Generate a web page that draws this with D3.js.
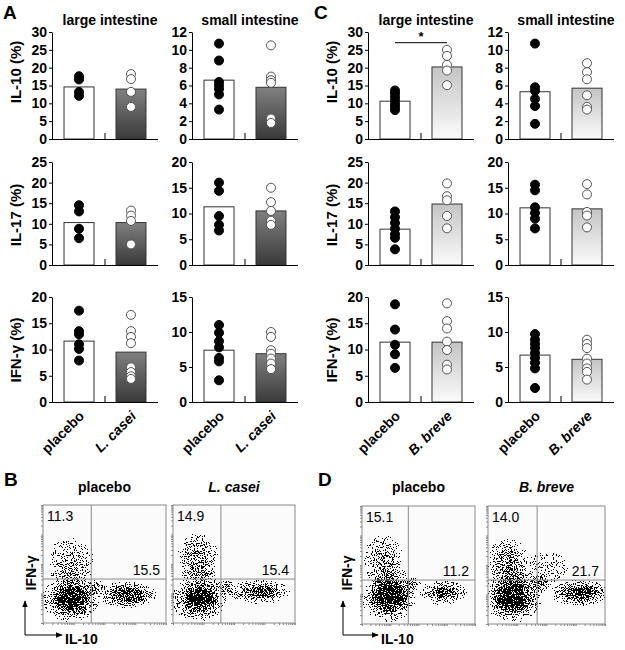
<!DOCTYPE html>
<html><head><meta charset="utf-8">
<script src="https://cdn.jsdelivr.net/npm/d3@7"></script>
<style>body{margin:0;background:#fff}svg{display:block}</style>
</head><body>
<svg id="fig" width="625" height="650"></svg>
<script>
// ---------------- DATA ----------------
const groupsA = ["placebo", "L. casei"];
const groupsC = ["placebo", "B. breve"];
const cytokineLabels = ["IL-10 (%)", "IL-17 (%)", "IFN-γ (%)"];
const tissueLabels = ["large intestine", "small intestine"];
const yMaxLarge = [30, 25, 20];
const yStepLarge = [5, 5, 5];
const yMaxSmall = [12, 20, 15];
const yStepSmall = [2, 5, 5];

// Panel A (L. casei) — bar heights [placebo, L. casei] per cytokine row
const A_large_means = [[14.6, 14.0], [10.3, 10.3], [11.6, 9.5]];
const A_large_placebo = [[17.6, 16.7, 13.2, 12.1], [14.5, 13.0, 8.8, 6.5], [17.4, 13.5, 12.9, 11.0, 10.1, 7.9]];
const A_large_casei = [[18.2, 16.8, 13.2, 9.0], [13.2, 12.0, 10.7, 5.0], [16.6, 13.5, 12.4, 11.2, 6.6, 5.7, 4.9, 4.4]];
const A_small_means = [[6.6, 5.8], [11.3, 10.5], [7.4, 6.9]];
const A_small_placebo = [[10.7, 8.8, 6.4, 6.0, 5.6, 5.0, 3.3], [16.0, 14.4, 9.5, 7.8, 6.7], [11.0, 9.9, 8.7, 7.8, 6.3, 5.8, 3.1]];
const A_small_casei = [[10.5, 7.0, 6.6, 6.3, 2.3, 1.8], [15.0, 12.2, 10.5, 8.6, 7.8], [10.0, 9.3, 7.4, 6.9, 6.2, 5.5, 4.7]];

// Panel C (B. breve)
const C_large_means = [[10.6, 20.2], [8.7, 14.8], [11.4, 11.4]];
const C_large_placebo = [[13.6, 12.8, 11.8, 10.8, 9.8, 8.9, 8.1], [13.0, 11.6, 10.2, 8.8, 7.5, 6.6, 3.8], [18.6, 13.8, 10.9, 9.1, 6.5]];
const C_large_breve = [[25.0, 23.3, 20.8, 19.2, 15.1], [19.8, 16.7, 15.7, 11.9, 8.9], [18.8, 15.4, 14.0, 11.5, 9.9, 7.1, 6.2]];
const C_small_means = [[5.3, 5.7], [11.1, 10.9], [6.7, 6.1]];
const C_small_placebo = [[10.7, 5.8, 5.4, 4.5, 3.7, 1.7], [15.6, 14.5, 11.2, 10.1, 9.0, 7.1], [9.7, 8.9, 8.3, 7.7, 7.0, 6.3, 5.6, 4.8, 2.0]];
const C_small_breve = [[8.5, 7.5, 6.7, 4.9, 3.6, 3.3], [15.7, 13.7, 10.3, 9.6, 7.3], [8.9, 8.3, 7.7, 6.2, 5.5, 4.8, 4.3, 3.2]];
const sigLevelC = 27;   // significance bracket level (% IL-10, large intestine)
const sigText = "*";

// Flow cytometry (B, D): quadrant percentages [upper-left, lower-right]
const flowTitlesB = ["placebo", "L. casei"];
const flowTitlesD = ["placebo", "B. breve"];
const flowPctB = [["11.3", "15.5"], ["14.9", "15.4"]];
const flowPctD = [["15.1", "11.2"], ["14.0", "21.7"]];
// gate positions (log10 units on a 0–4 decade axis): [IL-10 gate, IFN-γ gate]
const flowGatesB = [[1.57, 1.49], [1.57, 1.49]];
const flowGatesD = [[1.64, 1.49], [1.68, 1.49]];
// cell populations, estimated densities: [IL-10 centre, IFN-γ centre, spreadX, spreadY, density] (decades)
const popsB_placebo = [[0.94,0.85,0.72,0.58,1.0],[0.92,0.82,0.45,0.38,1.0],[0.88,0.80,0.98,0.82,0.6],[0.88,2.2,0.80,0.75,0.3],[0.90,1.63,0.72,0.47,0.38],[1.69,1.19,0.36,0.28,0.55],[2.76,0.95,0.98,0.47,0.72],[2.83,0.95,0.60,0.28,0.55],[2.2,2.1,2.0,1.9,0.04]];
const popsB_casei   = [[0.88,0.85,0.70,0.56,0.95],[0.86,0.82,0.42,0.36,1.0],[0.85,0.80,0.95,0.80,0.55],[0.80,2.3,0.68,0.78,0.5],[0.85,1.65,0.70,0.47,0.42],[1.69,1.19,0.36,0.28,0.5],[2.85,1.05,1.05,0.42,0.62],[2.95,1.05,0.60,0.26,0.45],[2.2,2.1,2.0,1.9,0.04]];
const popsD_placebo = [[0.99,0.98,0.78,0.68,1.0],[0.97,0.95,0.48,0.42,1.0],[0.95,0.90,1.00,0.88,0.65],[0.74,2.27,0.72,0.78,0.45],[0.85,1.65,0.74,0.50,0.45],[1.75,1.30,0.38,0.30,0.55],[2.87,1.05,0.90,0.42,0.62],[2.92,1.05,0.55,0.24,0.45],[2.2,2.1,2.0,1.9,0.04]];
const popsD_breve   = [[0.85,0.92,0.78,0.68,1.0],[0.85,0.90,0.48,0.42,1.0],[0.85,0.95,1.05,0.95,0.65],[0.65,2.17,0.72,0.78,0.5],[0.80,1.65,0.72,0.50,0.45],[1.75,1.40,0.42,0.36,0.6],[3.15,1.05,1.05,0.46,0.78],[3.2,1.05,0.62,0.28,0.6],[2.0,1.9,0.75,0.55,0.15],[2.2,2.1,2.0,1.9,0.05]];

// ---------------- LAYOUT ----------------
const FONT = "'Liberation Sans', Arial, Helvetica, sans-serif";
const svg = d3.select("#fig");
const defs = svg.append("defs");

function linGrad(id, top, bottom) {
  const g = defs.append("linearGradient").attr("id", id).attr("x1", 0).attr("y1", 0).attr("x2", 0).attr("y2", 1);
  g.append("stop").attr("offset", "0%").attr("stop-color", top);
  g.append("stop").attr("offset", "100%").attr("stop-color", bottom);
}
linGrad("darkBar", "#808080", "#3a3a3a");
linGrad("lightBar", "#c4c4c4", "#fbfbfb");

const rg = defs.append("radialGradient").attr("id", "blob");
rg.append("stop").attr("offset", "0%").attr("stop-color", "#000").attr("stop-opacity", 1);
rg.append("stop").attr("offset", "45%").attr("stop-color", "#000").attr("stop-opacity", 0.75);
rg.append("stop").attr("offset", "100%").attr("stop-color", "#000").attr("stop-opacity", 0);

const flt = defs.append("filter").attr("id", "speckle").attr("filterUnits", "userSpaceOnUse")
  .attr("x", 0).attr("y", 480).attr("width", 625).attr("height", 170)
  .attr("color-interpolation-filters", "sRGB");
flt.append("feTurbulence").attr("type", "fractalNoise").attr("baseFrequency", 0.9).attr("numOctaves", 2).attr("seed", 5).attr("result", "noise");
flt.append("feColorMatrix").attr("in", "noise").attr("type", "matrix")
  .attr("values", "0 0 0 0 0  0 0 0 0 0  0 0 0 0 0  3.2 0 0 0 -1.1").attr("result", "thr");
flt.append("feComposite").attr("in", "SourceAlpha").attr("in2", "thr").attr("operator", "arithmetic")
  .attr("k1", 0).attr("k2", 1).attr("k3", -1).attr("k4", 0).attr("result", "diff");
const ct = flt.append("feComponentTransfer").attr("in", "diff");
ct.append("feFuncA").attr("type", "discrete").attr("tableValues", "0 1 1 1 1 1 1 1 1 1 1 1 1 1 1 1 1 1 1 1");

const rowsLayout = [{ top: 32, base: 139, lab: 72 }, { top: 162, base: 265, lab: 215 }, { top: 297, base: 402, lab: 350 }];

function text(g, x, y, str, opts = {}) {
  return g.append("text").attr("x", x).attr("y", y).text(str)
    .attr("font-family", FONT).attr("font-size", opts.size || 14)
    .attr("font-weight", opts.weight || "bold")
    .attr("font-style", opts.italic ? "italic" : "normal")
    .attr("text-anchor", opts.anchor || "start")
    .attr("fill", "#000");
}

function barChart(ax, row, yMax, yStep, cats, means, dotsP, dotsT, fillId, ylabel) {
  const L = rowsLayout[row];
  const g = svg.append("g");
  const y = d3.scaleLinear().domain([0, yMax]).range([L.base, L.top]);
  const x = d3.scaleBand().domain(cats).range([ax, ax + 106]).paddingInner(0.423).paddingOuter(0.231);
  g.selectAll("rect.bar").data(cats).join("rect")
    .attr("x", d => x(d)).attr("width", x.bandwidth())
    .attr("y", (d, i) => y(means[i])).attr("height", (d, i) => y(0) - y(means[i]))
    .attr("fill", (d, i) => i === 0 ? "#fff" : `url(#${fillId})`)
    .attr("stroke", "#333").attr("stroke-width", 1);
  [dotsP, dotsT].forEach((arr, i) => {
    g.selectAll(null).data(arr).join("circle")
      .attr("cx", x(cats[i]) + x.bandwidth() / 2).attr("cy", d => y(d)).attr("r", 4.5)
      .attr("fill", i === 0 ? "#000" : "#fff")
      .attr("stroke", i === 0 ? "#000" : "#555").attr("stroke-width", 1);
  });
  const yAxis = d3.axisLeft(y).tickValues(d3.range(0, yMax + 0.001, yStep)).tickSize(3).tickSizeOuter(0).tickPadding(2);
  const ga = g.append("g").attr("transform", `translate(${ax},0)`).call(yAxis);
  ga.selectAll("text").attr("font-family", FONT).attr("font-size", 14).attr("font-weight", "bold").attr("fill", "#000");
  ga.selectAll("path,line").attr("stroke", "#000");
  g.append("line").attr("x1", ax).attr("x2", ax + 106).attr("y1", L.base + 0.5).attr("y2", L.base + 0.5).attr("stroke", "#000");
  g.append("line").attr("x1", ax + 53).attr("x2", ax + 53).attr("y1", L.base).attr("y2", L.base - 6).attr("stroke", "#000");
  if (ylabel) {
    const lg = g.append("g").attr("transform", `translate(${ax - 31},${L.lab}) rotate(-90)`);
    text(lg, 0, 0, ylabel, { size: 15, anchor: "middle" });
  }
  if (row === 2) {
    cats.forEach((c, i) => {
      const px = x(c) + x.bandwidth() / 2 + 6, py = L.base + 15;
      const tg = g.append("g").attr("transform", `translate(${px},${py}) rotate(-45)`);
      text(tg, 0, 0, c, { size: 14, anchor: "end", italic: i === 1 });
    });
  }
  return { x, y, g };
}

const cols = [
  { ax: 52, cats: groupsA, means: A_large_means, p: A_large_placebo, t: A_large_casei, max: yMaxLarge, step: yStepLarge, fill: "darkBar", ylab: true, tissue: 0 },
  { ax: 192, cats: groupsA, means: A_small_means, p: A_small_placebo, t: A_small_casei, max: yMaxSmall, step: yStepSmall, fill: "darkBar", ylab: false, tissue: 1 },
  { ax: 368, cats: groupsC, means: C_large_means, p: C_large_placebo, t: C_large_breve, max: yMaxLarge, step: yStepLarge, fill: "lightBar", ylab: true, tissue: 0 },
  { ax: 508, cats: groupsC, means: C_small_means, p: C_small_placebo, t: C_small_breve, max: yMaxSmall, step: yStepSmall, fill: "lightBar", ylab: false, tissue: 1 }
];

cols.forEach((c, ci) => {
  text(svg, c.ax + 58, 25, tissueLabels[c.tissue], { size: 14, anchor: "middle" });
  for (let r = 0; r < 3; r++) {
    const ch = barChart(c.ax, r, c.max[r], c.step[r], c.cats, c.means[r], c.p[r], c.t[r], c.fill, c.ylab ? cytokineLabels[r] : null);
    if (ci === 2 && r === 0) {
      const x0 = ch.x(c.cats[0]) + ch.x.bandwidth() / 2, x1 = ch.x(c.cats[1]) + ch.x.bandwidth() / 2;
      const yy = ch.y(sigLevelC);
      ch.g.append("line").attr("x1", x0).attr("x2", x1).attr("y1", yy).attr("y2", yy).attr("stroke", "#000");
      text(ch.g, (x0 + x1) / 2, yy - 2, sigText, { size: 13, anchor: "middle", weight: "bold" });
    }
  }
});

text(svg, 3, 19, "A", { size: 19 });
text(svg, 314, 19, "C", { size: 19 });
text(svg, 4, 486, "B", { size: 19 });
text(svg, 318, 486, "D", { size: 19 });

// ---------------- FLOW PLOTS ----------------
function flowPlot(x0, x1, y0, y1, title, italic, pct, gates, pops) {
  const g = svg.append("g");
  const xs = d3.scaleLog().domain([1, 1e4]).range([x0, x1]);
  const ys = d3.scaleLog().domain([1, 1e4]).range([y1, y0]);
  const id = "clip" + Math.round(x0);
  defs.append("clipPath").attr("id", id).append("rect").attr("x", x0).attr("y", y0).attr("width", x1 - x0).attr("height", y1 - y0);
  g.append("rect").attr("x", x0).attr("y", y0).attr("width", x1 - x0).attr("height", y1 - y0).attr("fill", "#fbfbfb");
  const pg = g.append("g").attr("clip-path", `url(#${id})`).append("g").attr("filter", "url(#speckle)");
  pg.selectAll("ellipse").data(pops).join("ellipse")
    .attr("cx", d => xs(Math.pow(10, d[0]))).attr("cy", d => ys(Math.pow(10, d[1])))
    .attr("rx", d => xs(Math.pow(10, d[2])) - xs(1)).attr("ry", d => ys(1) - ys(Math.pow(10, d[3])))
    .attr("fill", "url(#blob)").attr("fill-opacity", d => d[4]);
  const gx = xs(Math.pow(10, gates[0])), gy = ys(Math.pow(10, gates[1]));
  g.append("line").attr("x1", gx).attr("x2", gx).attr("y1", y0).attr("y2", y1).attr("stroke", "#8a8a8a");
  g.append("line").attr("x1", x0).attr("x2", x1).attr("y1", gy).attr("y2", gy).attr("stroke", "#8a8a8a");
  g.append("rect").attr("x", x0).attr("y", y0).attr("width", x1 - x0).attr("height", y1 - y0)
    .attr("fill", "none").attr("stroke", "#8a8a8a");
  const minors = [];
  for (let e = 0; e < 4; e++) for (let m = 1; m < 10; m++) minors.push(m * Math.pow(10, e));
  minors.push(1e4);
  const a1 = g.append("g").attr("transform", `translate(${x0},0)`).call(d3.axisLeft(ys).tickValues(minors).tickSize(2).tickFormat(""));
  const a2 = g.append("g").attr("transform", `translate(0,${y1})`).call(d3.axisBottom(xs).tickValues(minors).tickSize(2).tickFormat(""));
  [a1, a2].forEach(a => { a.select("path").remove(); a.selectAll("line").attr("stroke", "#888"); });
  text(g, x0 + 4, y0 + 16, pct[0], { size: 14, weight: "normal" });
  text(g, x1 - 6, gy - 4, pct[1], { size: 14, weight: "normal", anchor: "end" });
  text(g, (x0 + x1) / 2, 492, title, { size: 14, anchor: "middle", italic });
}

flowPlot(43, 166, 505, 623, flowTitlesB[0], false, flowPctB[0], flowGatesB[0], popsB_placebo);
flowPlot(173, 295, 505, 623, flowTitlesB[1], true, flowPctB[1], flowGatesB[1], popsB_casei);
flowPlot(362, 475, 506, 624, flowTitlesD[0], false, flowPctD[0], flowGatesD[0], popsD_placebo);
flowPlot(488, 605, 506, 624, flowTitlesD[1], true, flowPctD[1], flowGatesD[1], popsD_breve);

defs.append("marker").attr("id", "arr").attr("viewBox", "0 0 10 10").attr("refX", 9).attr("refY", 5)
  .attr("markerWidth", 7).attr("markerHeight", 7).attr("orient", "auto")
  .append("path").attr("d", "M0,1 L10,5 L0,9 Z").attr("fill", "#000");
function arrows(xa, ylabX, xEnd) {
  svg.append("line").attr("x1", xa).attr("x2", xa).attr("y1", 635).attr("y2", 601).attr("stroke", "#000").attr("marker-end", "url(#arr)");
  svg.append("line").attr("x1", xa).attr("x2", xEnd).attr("y1", 635).attr("y2", 635).attr("stroke", "#000").attr("marker-end", "url(#arr)");
  text(svg, xEnd + 3, 644, "IL-10", { size: 14 });
  const lg = svg.append("g").attr("transform", `translate(${ylabX},573) rotate(-90)`);
  text(lg, 0, 0, "IFN-γ", { size: 14, anchor: "middle" }).attr("dominant-baseline", "central");
}
arrows(25, 31, 62);
arrows(343, 347, 378);
</script>
</body></html>
